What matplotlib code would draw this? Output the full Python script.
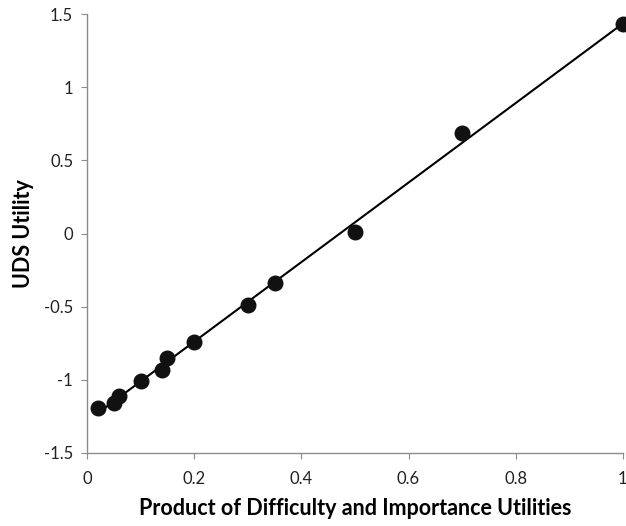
import numpy as np
import matplotlib.pyplot as plt

# --- Data ---
product_util = [0.02, 0.05, 0.06, 0.10, 0.14, 0.15, 0.20, 0.30, 0.35, 0.50, 0.70, 1.00]
uds_util = [-1.19, -1.16, -1.11, -1.01, -0.93, -0.85, -0.74, -0.49, -0.34, 0.01, 0.69, 1.43]

x_ticks = [0, 0.2, 0.4, 0.6, 0.8, 1]
x_labels = ['0', '0.2', '0.4', '0.6', '0.8', '1']
y_ticks = [-1.5, -1, -0.5, 0, 0.5, 1, 1.5]
y_labels = ['-1.5', '-1', '-0.5', '0', '0.5', '1', '1.5']

plt.rcParams['font.family'] = ['Lato', 'DejaVu Sans']

fig = plt.figure(figsize=(6.26, 5.26), dpi=100)
ax = fig.add_axes([0.139, 0.139, 0.856, 0.834])

# linear trendline through the points
x = np.array(product_util)
y = np.array(uds_util)
slope, intercept = np.polyfit(x, y, 1)
xs = np.array([x.min(), x.max()])
ax.plot(xs, slope * xs + intercept, color='black', linewidth=1.5, zorder=2)

ax.scatter(x, y, s=110, color='#111111', zorder=3, clip_on=False)

ax.set_xlim(0, 1)
ax.set_ylim(-1.5, 1.5)
ax.set_xticks(x_ticks)
ax.set_xticklabels(x_labels)
ax.set_yticks(y_ticks)
ax.set_yticklabels(y_labels)

for side in ['top', 'right']:
    ax.spines[side].set_visible(False)
for side in ['left', 'bottom']:
    ax.spines[side].set_color('#8c8c8c')
    ax.spines[side].set_linewidth(1.0)
ax.tick_params(colors='#8c8c8c', labelcolor='#222222', labelsize=12, length=4, direction='out')
ax.tick_params(axis='x', pad=9)
ax.tick_params(axis='y', pad=6)

ax.set_xlabel('Product of Difficulty and Importance Utilities', fontsize=15.5, fontweight='bold', labelpad=8)
ax.set_ylabel('UDS Utility', fontsize=15.5, fontweight='bold', labelpad=7)

fig.savefig('out.png', dpi=100)
